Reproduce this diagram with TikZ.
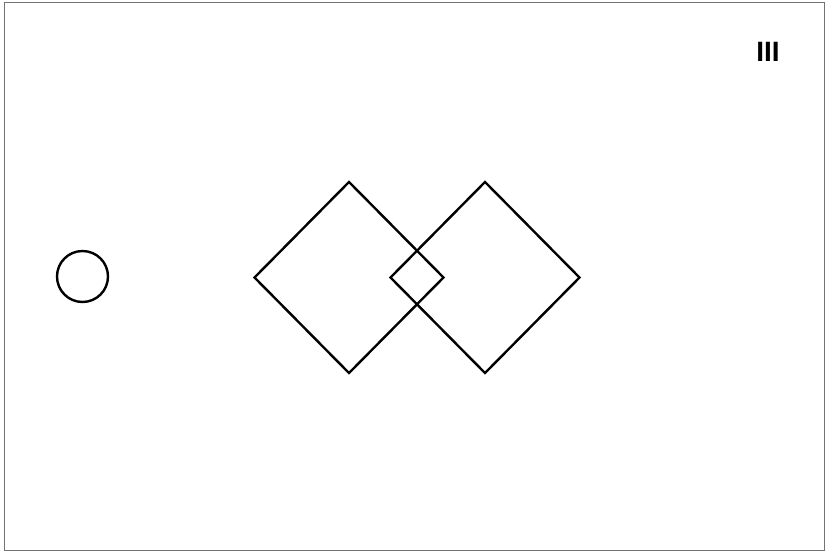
\documentclass[tikz,border=0pt]{standalone}
\usepackage{fontspec}
\setmainfont{Liberation Sans}
\usetikzlibrary{shapes.geometric}

\begin{document}
\begin{tikzpicture}[
  x=1pt,y=-1pt,
  figure/.style ={draw,line width=2.4pt,inner sep=0pt},
  rhomb/.style  ={figure,diamond,minimum width=190pt,minimum height=192pt},
  ring/.style   ={figure,circle,minimum size=51pt},
  frame/.style  ={draw=black!55,line width=0.8pt},
]
\useasboundingbox (0,0) rectangle (827,552);
\draw[frame] (4,2) rectangle (824,550);

%% figures
\node[ring]  (ring)  at (82.5,276.5) {};
\node[rhomb] (left)  at (349,277.5) {};
\node[rhomb] (right) at (485,277.5) {};

%% numeral
\node[font=\fontsize{28}{30}\selectfont\bfseries] (num) at (768,52) {III};
\end{tikzpicture}
\end{document}
